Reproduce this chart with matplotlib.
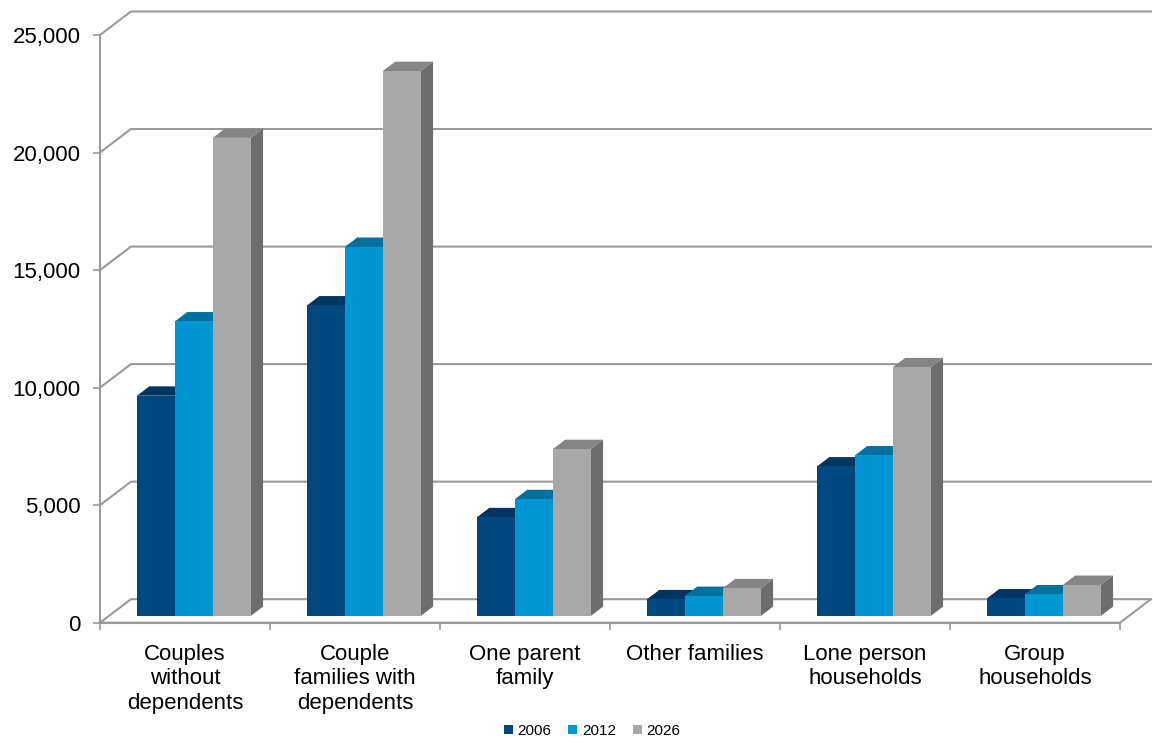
import numpy as np
import matplotlib.pyplot as plt
from matplotlib.patches import Polygon, Patch

plt.rcParams['font.family'] = ['Liberation Sans', 'DejaVu Sans']

categories = ['Couples\nwithout\ndependents', 'Couple\nfamilies with\ndependents',
              'One parent\nfamily', 'Other families', 'Lone person\nhouseholds',
              'Group\nhouseholds']
years = ['2006', '2012', '2026']
values_2006 = [9370, 13210, 4200, 710, 6360, 750]
values_2012 = [12530, 15700, 4970, 850, 6830, 920]
values_2026 = [20340, 23180, 7100, 1180, 10580, 1320]
y_ticks = [0, 5000, 10000, 15000, 20000, 25000]

front_colors = ['#00467F', '#0095D3', '#A8A8A8']
top_colors = ['#003562', '#00709E', '#858585']
side_colors = ['#002A4D', '#005F87', '#6D6D6D']
grid_color = '#9A9A9A'

# fake 3d: floor depth in data units, bars sit part way into it
DEPTH_X = 0.182
DEPTH_Y = 1000
BAR_START = 0.285
BAR_DEPTH = 0.4
BAR_W = 0.223
GAP = (1 - 3 * BAR_W) / 2

W, H = 1153, 743
fig = plt.figure(figsize=(W / 100, H / 100), dpi=100)
ax = fig.add_axes([100 / W, (H - 622.7) / H, 1020 / W, 587.7 / H])
n = len(categories)
ax.set_xlim(0, n)
ax.set_ylim(0, 25000)

# back wall gridlines + left diagonals
for v in y_ticks:
    ax.plot([0, DEPTH_X, n + DEPTH_X], [v, v + DEPTH_Y, v + DEPTH_Y],
            color=grid_color, lw=1.5, clip_on=False, zorder=1)
# floor outline
ax.plot([0, n, n + DEPTH_X], [0, 0, DEPTH_Y], color=grid_color, lw=1.5,
        clip_on=False, zorder=1)

series = [values_2006, values_2012, values_2026]
ox = BAR_START * DEPTH_X
oy = BAR_START * DEPTH_Y
ddx = BAR_DEPTH * DEPTH_X
ddy = BAR_DEPTH * DEPTH_Y
for j, vals in enumerate(series):
    xs = np.arange(n) + GAP + j * BAR_W + ox
    z = 3 + j
    for x, v in zip(xs, vals):
        top = oy + v
        side = Polygon([(x + BAR_W, oy), (x + BAR_W, top), (x + BAR_W + ddx, top + ddy),
                        (x + BAR_W + ddx, oy + ddy)], closed=True,
                       facecolor=side_colors[j], edgecolor='none', zorder=z, clip_on=False)
        lid = Polygon([(x, top), (x + BAR_W, top), (x + BAR_W + ddx, top + ddy),
                       (x + ddx, top + ddy)], closed=True,
                      facecolor=top_colors[j], edgecolor='none', zorder=z, clip_on=False)
        ax.add_patch(side)
        ax.add_patch(lid)
    ax.bar(xs, vals, width=BAR_W, bottom=oy, align='edge', color=front_colors[j],
           edgecolor='none', zorder=z + 0.5, clip_on=False)

for s in ['top', 'right']:
    ax.spines[s].set_visible(False)
for s in ['left', 'bottom']:
    ax.spines[s].set_color(grid_color)
    ax.spines[s].set_linewidth(1.5)
    ax.spines[s].set_zorder(1)

ax.set_yticks(y_ticks)
ax.set_yticklabels([f'{v:,}' for v in y_ticks])
ax.tick_params(axis='y', direction='out', length=5, width=1.2, color=grid_color,
               labelsize=16, pad=9)
ax.set_xticks(np.arange(n + 1))
ax.set_xticklabels([])
ax.set_xticks(np.arange(n) + 0.5, minor=True)
ax.set_xticklabels(categories, minor=True, fontsize=16, linespacing=1.22)
ax.tick_params(axis='x', which='major', direction='out', length=5, width=1.2, color=grid_color)
ax.tick_params(axis='x', which='minor', length=0, pad=15)

handles = [Patch(facecolor=c, edgecolor='none') for c in front_colors]
fig.legend(handles, years, loc='center', bbox_to_anchor=(592 / W, 1 - 731 / H), ncol=3,
           frameon=False, fontsize=11, handlelength=0.6, handleheight=0.6,
           columnspacing=1.1, handletextpad=0.3)

fig.savefig('out.png', dpi=100)
